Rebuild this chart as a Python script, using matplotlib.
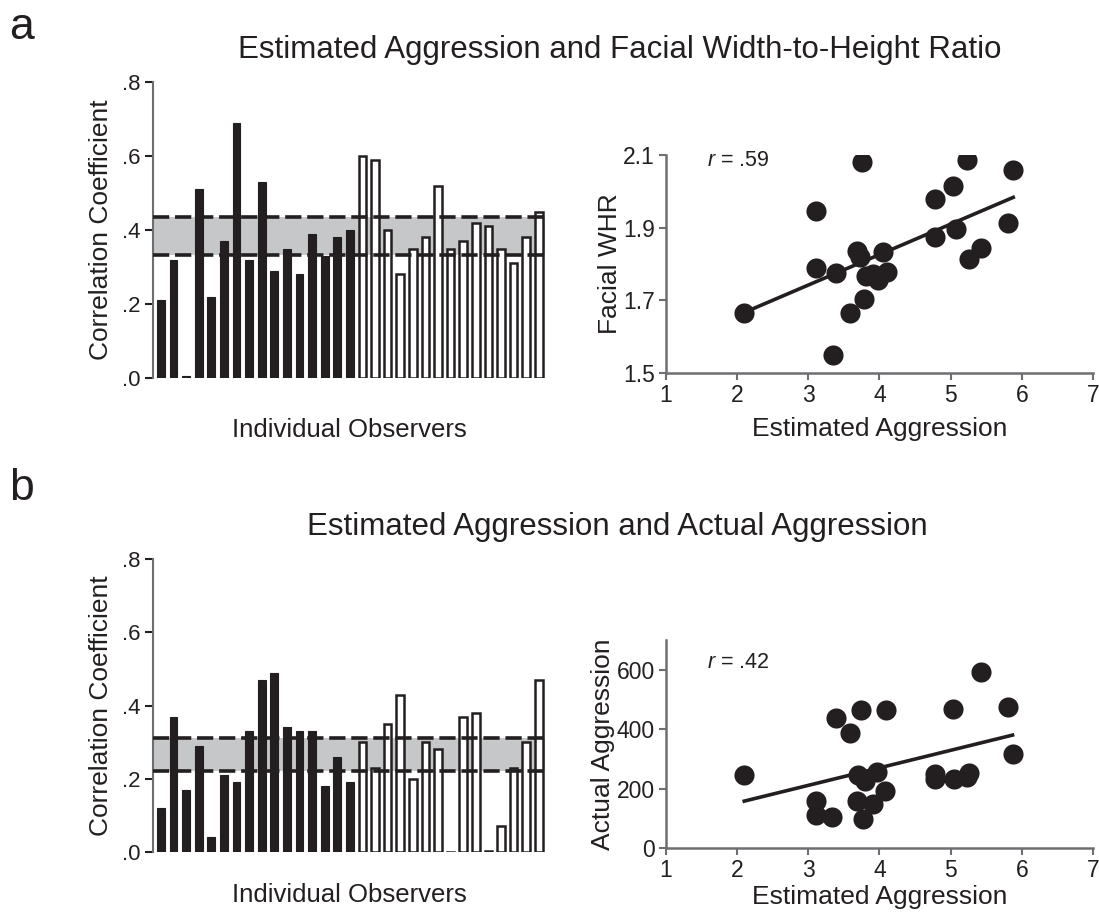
import matplotlib
matplotlib.use("Agg")
import matplotlib.pyplot as plt
import numpy as np

plt.rcParams["font.family"] = ["Liberation Sans", "DejaVu Sans"]
plt.rcParams["mathtext.fontset"] = "custom"
plt.rcParams["mathtext.rm"] = "Liberation Sans"
plt.rcParams["mathtext.it"] = "Liberation Sans:italic"

# panel a: per-observer correlations (16 black, 15 white)
corr_a_black = [.21, .32, .005, .51, .22, .37, .69, .32, .53, .29, .35, .28, .39, .33, .38, .40]
corr_a_white = [.60, .59, .40, .28, .35, .38, .52, .35, .37, .42, .41, .35, .31, .38, .45]
band_a = (.332, .436)

# panel b
corr_b_black = [.12, .37, .17, .29, .04, .21, .19, .33, .47, .49, .34, .33, .33, .18, .26, .19]
corr_b_white = [.30, .23, .35, .43, .20, .30, .28, -.006, .37, .38, .003, .07, .23, .30, .47]
band_b = (.222, .311)

# scatter a: estimated aggression vs facial WHR
est_a = [2.10, 3.11, 3.11, 3.34, 3.39, 3.59, 3.69, 3.72, 3.75, 3.78, 3.81, 3.91,
         3.98, 4.05, 4.11, 4.78, 4.78, 5.03, 5.08, 5.23, 5.26, 5.43, 5.81, 5.88]
whr = [1.665, 1.945, 1.79, 1.55, 1.775, 1.665, 1.836, 1.82, 2.08, 1.705, 1.766, 1.773,
       1.756, 1.834, 1.779, 1.978, 1.874, 2.015, 1.897, 2.086, 1.814, 1.843, 1.912, 2.059]

# scatter b: estimated vs actual aggression
est_b = [2.10, 3.11, 3.11, 3.33, 3.39, 3.59, 3.68, 3.70, 3.74, 3.77, 3.80, 3.91,
         3.97, 4.08, 4.09, 4.78, 4.78, 5.04, 5.05, 5.23, 5.26, 5.42, 5.81, 5.87]
actual = [244, 159, 112, 106, 436, 388, 159, 244, 464, 97, 224, 148,
          255, 192, 464, 248, 232, 467, 232, 238, 254, 592, 473, 318]

INK = "#231f20"
AXC = "#6d6e71"

fig = plt.figure(figsize=(10.99, 9.14), dpi=100)


def bar_panel(rect, black, white, band, xpad):
    ax = fig.add_axes(rect)
    n_b = len(black)
    xb = np.arange(n_b)
    xw = np.arange(n_b, n_b + len(white))
    ax.bar(xb, black, width=0.62, color=INK, edgecolor=INK, linewidth=0.8)
    ax.bar(xw, white, width=0.6, color="white", edgecolor=INK, linewidth=1.8)
    ax.axhspan(band[0], band[1], color="#c6c7c9", zorder=0, lw=0)
    for v in band:
        ax.axhline(v, color=INK, lw=2.6, dashes=(4.5, 1.6), zorder=3)
    ax.set_xlim(-0.65, xw[-1] + 0.5)
    ax.set_ylim(0, 0.8)
    ax.set_yticks([0, .2, .4, .6, .8])
    ax.set_yticklabels([".0", ".2", ".4", ".6", ".8"])
    ax.set_xticks([])
    for s in ["top", "right", "bottom"]:
        ax.spines[s].set_visible(False)
    ax.spines["left"].set_color(AXC)
    ax.spines["left"].set_linewidth(1.5)
    ax.tick_params(axis="y", colors=INK, labelsize=16, length=6, width=1.5,
                   color=INK, pad=3)
    ax.set_ylabel("Correlation Coefficient", fontsize=19, color=INK, labelpad=6)
    ax.set_xlabel("Individual Observers", fontsize=18.5, color=INK, labelpad=xpad)
    ax.patch.set_alpha(0)
    return ax


def scatter_panel(rect, x, y, ylim, yticks, yticklabels, ylabel, rtext, xpad):
    ax = fig.add_axes(rect)
    ax.scatter(x, y, s=210, color=INK, lw=0, zorder=3)
    k, c = np.polyfit(x, y, 1)
    xs = np.array([min(x), max(x)])
    ax.plot(xs, k * xs + c, color=INK, lw=2.6, zorder=2)
    ax.set_xlim(1, 7)
    ax.set_ylim(*ylim)
    ax.set_xticks(range(1, 8))
    ax.set_yticks(yticks)
    ax.set_yticklabels(yticklabels)
    for s in ["top", "right"]:
        ax.spines[s].set_visible(False)
    for s in ["left", "bottom"]:
        ax.spines[s].set_color(AXC)
        ax.spines[s].set_linewidth(1.8)
    ax.tick_params(colors=INK, labelsize=16.5, length=5, width=1.5, color=AXC, pad=3)
    ax.set_ylabel(ylabel, fontsize=19, color=INK, labelpad=1)
    ax.set_xlabel("Estimated Aggression", fontsize=19, color=INK, labelpad=xpad)
    ax.text(0.096, rtext[1], rtext[0], transform=ax.transAxes, fontsize=15.5,
            color=INK, va="center", ha="left")
    return ax


bar_panel([0.139, 0.5864, 0.357, 0.3239], corr_a_black, corr_a_white, band_a, 29)
bar_panel([0.139, 0.0678, 0.357, 0.3206], corr_b_black, corr_b_white, band_b, 22)

scatter_panel([0.606, 0.5919, 0.3885, 0.2385], est_a, whr, (1.5, 2.1),
              [1.5, 1.7, 1.9, 2.1], ["1.5", "1.7", "1.9", "2.1"], "Facial WHR",
              ("$r$ = .59", 0.975), 7)
scatter_panel([0.606, 0.0722, 0.3885, 0.2276], est_b, actual, (0, 700),
              [0, 200, 400, 600], ["0", "200", "400", "600"], "Actual Aggression",
              ("$r$ = .42", 0.89), 2)

fig.text(0.008, 0.992, "a", fontsize=32, color=INK, va="top", ha="left")
fig.text(0.008, 0.488, "b", fontsize=32, color=INK, va="top", ha="left")
fig.text(0.564, 0.945, "Estimated Aggression and Facial Width-to-Height Ratio",
         fontsize=22.5, color=INK, ha="center", va="center")
fig.text(0.562, 0.423, "Estimated Aggression and Actual Aggression",
         fontsize=22.5, color=INK, ha="center", va="center")

fig.savefig("out.png", dpi=100)
